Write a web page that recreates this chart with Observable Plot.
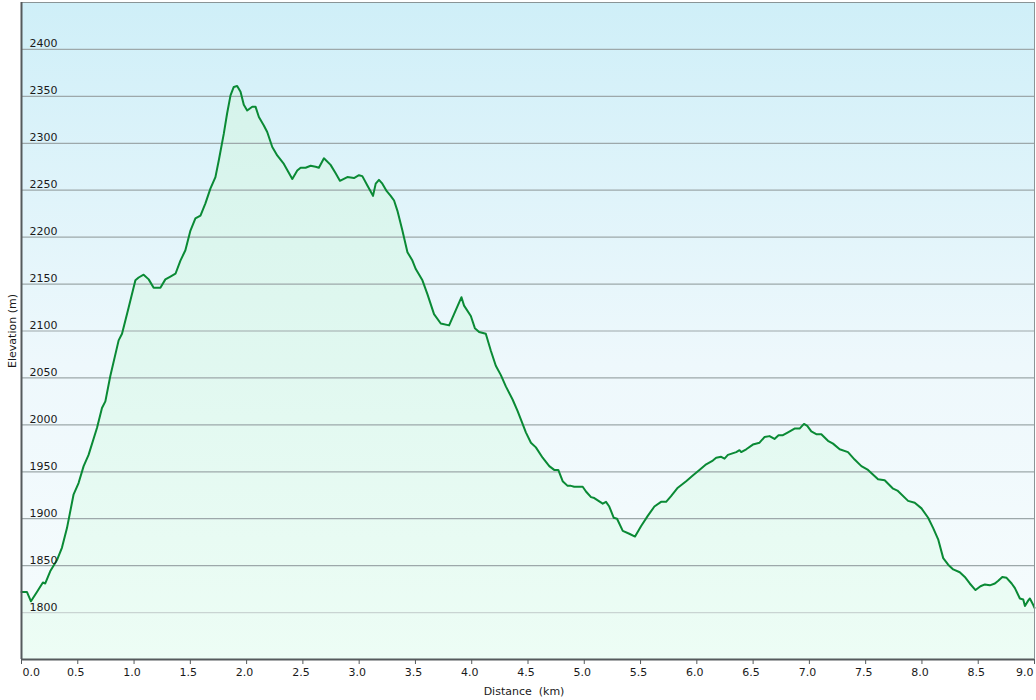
<!DOCTYPE html>
<html>
<head>
<meta charset="utf-8">
<script src="https://cdn.jsdelivr.net/npm/d3@7"></script>
<script src="https://cdn.jsdelivr.net/npm/@observablehq/plot@0.6"></script>
<style>
  body { margin: 0; background: #ffffff; }
  svg { display: block; }
  svg text { white-space: pre; }
</style>
</head>
<body>
<div id="chart"></div>
<script>
// Distance along the route (km)
const distanceKm = [
  0.000, 0.048, 0.084, 0.137, 0.190, 0.211, 0.255, 0.315, 0.359, 0.404,
  0.463, 0.507, 0.552, 0.596, 0.671, 0.715, 0.745, 0.789, 0.863, 0.893,
  0.952, 1.012, 1.041, 1.085, 1.130, 1.174, 1.234, 1.278, 1.323, 1.368,
  1.412, 1.456, 1.501, 1.545, 1.590, 1.634, 1.679, 1.723, 1.753, 1.797,
  1.827, 1.857, 1.886, 1.916, 1.946, 1.975, 2.005, 2.050, 2.079, 2.109,
  2.153, 2.183, 2.228, 2.272, 2.331, 2.406, 2.450, 2.480, 2.524, 2.569,
  2.613, 2.642, 2.687, 2.746, 2.791, 2.829, 2.895, 2.954, 2.998, 3.028,
  3.073, 3.123, 3.147, 3.176, 3.206, 3.245, 3.280, 3.310, 3.340, 3.384,
  3.429, 3.473, 3.503, 3.562, 3.607, 3.665, 3.725, 3.799, 3.843, 3.909,
  3.932, 3.992, 4.028, 4.066, 4.125, 4.170, 4.214, 4.259, 4.303, 4.363,
  4.407, 4.452, 4.481, 4.526, 4.570, 4.630, 4.689, 4.733, 4.769, 4.808,
  4.852, 4.882, 4.911, 4.986, 5.015, 5.060, 5.089, 5.164, 5.193, 5.222,
  5.262, 5.291, 5.342, 5.400, 5.451, 5.504, 5.564, 5.623, 5.682, 5.727,
  5.771, 5.831, 5.905, 5.964, 6.023, 6.083, 6.142, 6.172, 6.216, 6.246,
  6.276, 6.350, 6.379, 6.394, 6.439, 6.498, 6.557, 6.601, 6.646, 6.690,
  6.726, 6.765, 6.810, 6.868, 6.913, 6.952, 6.981, 7.017, 7.061, 7.106,
  7.165, 7.210, 7.269, 7.343, 7.402, 7.462, 7.521, 7.610, 7.669, 7.744,
  7.782, 7.877, 7.936, 7.996, 8.055, 8.100, 8.144, 8.189, 8.233, 8.278,
  8.336, 8.381, 8.425, 8.476, 8.520, 8.559, 8.603, 8.648, 8.678, 8.714,
  8.752, 8.797, 8.826, 8.870, 8.900, 8.915, 8.945, 8.959, 8.989, 9.000
];

// Elevation (m)
const elevationM = [
  1822, 1822, 1812, 1822, 1832, 1831, 1844, 1856, 1869, 1890,
  1926, 1938, 1956, 1968, 1997, 2018, 2025, 2052, 2090, 2097,
  2125, 2154, 2157, 2160, 2155, 2146, 2146, 2155, 2158, 2161,
  2175, 2186, 2207, 2220, 2223, 2236, 2252, 2264, 2282, 2310,
  2332, 2351, 2360, 2361, 2355, 2341, 2335, 2339, 2339, 2328,
  2319, 2312, 2296, 2287, 2278, 2262, 2271, 2274, 2274, 2276,
  2275, 2274, 2284, 2277, 2268, 2260, 2264, 2263, 2266, 2265,
  2255, 2244, 2257, 2261, 2257, 2249, 2244, 2239, 2228, 2207,
  2184, 2175, 2166, 2154, 2139, 2118, 2108, 2106, 2118, 2136,
  2127, 2116, 2103, 2099, 2097, 2079, 2063, 2053, 2041, 2027,
  2015, 2001, 1992, 1981, 1976, 1965, 1956, 1952, 1952, 1940,
  1935, 1935, 1934, 1934, 1929, 1923, 1922, 1916, 1918, 1913,
  1901, 1900, 1887, 1884, 1881, 1892, 1903, 1913, 1918, 1918,
  1924, 1933, 1940, 1946, 1952, 1958, 1962, 1965, 1966, 1964,
  1968, 1971, 1973, 1971, 1974, 1979, 1981, 1987, 1988, 1985,
  1989, 1989, 1992, 1996, 1996, 2001, 1999, 1993, 1990, 1990,
  1983, 1980, 1974, 1971, 1963, 1956, 1952, 1942, 1941, 1932,
  1930, 1919, 1917, 1911, 1901, 1890, 1878, 1858, 1851, 1846,
  1843, 1838, 1831, 1824, 1828, 1830, 1829, 1831, 1834, 1838,
  1837, 1831, 1826, 1815, 1814, 1807, 1813, 1815, 1808, 1805
];

// Tick values and labels
const xTickValues = [0, 0.5, 1, 1.5, 2, 2.5, 3, 3.5, 4, 4.5, 5, 5.5, 6, 6.5, 7, 7.5, 8, 8.5, 9];
const yTickValues = [1800, 1850, 1900, 1950, 2000, 2050, 2100, 2150, 2200, 2250, 2300, 2350, 2400];
const xLabel = "Distance  (km)";
const yLabel = "Elevation (m)";

const profile = distanceKm.map((d, i) => ({ d, e: elevationM[i] }));

const yMin = 1750, yMax = 2450;
const fmt = d3.format(".1f");
const fs = 11;
const ink = "#1a1a1a";

const chart = Plot.plot({
  width: 1036,
  height: 700,
  marginLeft: 21,
  marginRight: 2,
  marginTop: 2,
  marginBottom: 41,
  x: { domain: [0, 9] },
  y: { domain: [yMin, yMax], axis: null },
  style: {
    fontFamily: "'DejaVu Sans', Verdana, sans-serif",
    fontSize: "11px",
    color: ink,
    background: "#ffffff",
    overflow: "visible"
  },
  marks: [
    Plot.frame({ fill: "url(#bgGrad)", stroke: null }),
    Plot.areaY(profile, { x: "d", y1: yMin, y2: "e", fill: "url(#areaGrad)" }),
    Plot.ruleY(yTickValues.filter(v => v !== 1800), { stroke: "#9da8aa", strokeWidth: 1.2 }),
    Plot.ruleY([1800], { stroke: "#c9d4d2", strokeWidth: 1.2 }),
    Plot.line(profile, { x: "d", y: "e", stroke: "#0a8a35", strokeWidth: 2 }),
    Plot.text(yTickValues, {
      x: 0, y: d => d, text: d => String(d),
      textAnchor: "start", lineAnchor: "bottom", dx: 8, dy: -2,
      fill: ink, fontSize: fs
    }),
    Plot.ruleY([yMax], { stroke: "#8a9496", strokeWidth: 1 }),
    Plot.ruleX([9], { stroke: "#8a9496", strokeWidth: 1 }),
    Plot.ruleX([0], { stroke: "#555a5c", strokeWidth: 2 }),
    Plot.ruleY([yMin], { stroke: "#555a5c", strokeWidth: 2 }),
    Plot.axisX(xTickValues, {
      tickFormat: () => "",
      tickSize: 5,
      stroke: "#555a5c",
      label: null
    }),
    Plot.text(xTickValues.slice(0, 1), {
      x: d => d, frameAnchor: "bottom", text: d => fmt(d),
      textAnchor: "start", lineAnchor: "middle", dy: 13, dx: 1, fill: ink, fontSize: fs
    }),
    Plot.text(xTickValues.slice(1, -1), {
      x: d => d, frameAnchor: "bottom", text: d => fmt(d),
      textAnchor: "middle", lineAnchor: "middle", dy: 13, dx: -2, fill: ink, fontSize: fs
    }),
    Plot.text(xTickValues.slice(-1), {
      x: d => d, frameAnchor: "bottom", text: d => fmt(d),
      textAnchor: "end", lineAnchor: "middle", dy: 13, dx: -1, fill: ink, fontSize: fs
    }),
    Plot.text([xLabel], {
      frameAnchor: "bottom", text: d => d, textAnchor: "middle", lineAnchor: "middle",
      dy: 32, dx: -4, fill: ink, fontSize: fs
    }),
    Plot.text([yLabel], {
      frameAnchor: "left", text: d => d, rotate: -90, textAnchor: "middle", lineAnchor: "middle",
      dx: -9, fill: ink, fontSize: fs
    })
  ]
});

const svg = d3.select(chart);
const defs = svg.insert("defs", ":first-child");
const bg = defs.append("linearGradient")
  .attr("id", "bgGrad").attr("gradientUnits", "userSpaceOnUse")
  .attr("x1", 0).attr("x2", 0).attr("y1", 2).attr("y2", 659);
bg.append("stop").attr("offset", "0%").attr("stop-color", "#cfeff8");
bg.append("stop").attr("offset", "55%").attr("stop-color", "#eef8fc");
bg.append("stop").attr("offset", "100%").attr("stop-color", "#f6fcfd");
const ag = defs.append("linearGradient")
  .attr("id", "areaGrad").attr("gradientUnits", "userSpaceOnUse")
  .attr("x1", 0).attr("x2", 0).attr("y1", 2).attr("y2", 659);
ag.append("stop").attr("offset", "0%").attr("stop-color", "#d2f2ea");
ag.append("stop").attr("offset", "100%").attr("stop-color", "#edfdf5");

document.getElementById("chart").appendChild(chart);
</script>
</body>
</html>
